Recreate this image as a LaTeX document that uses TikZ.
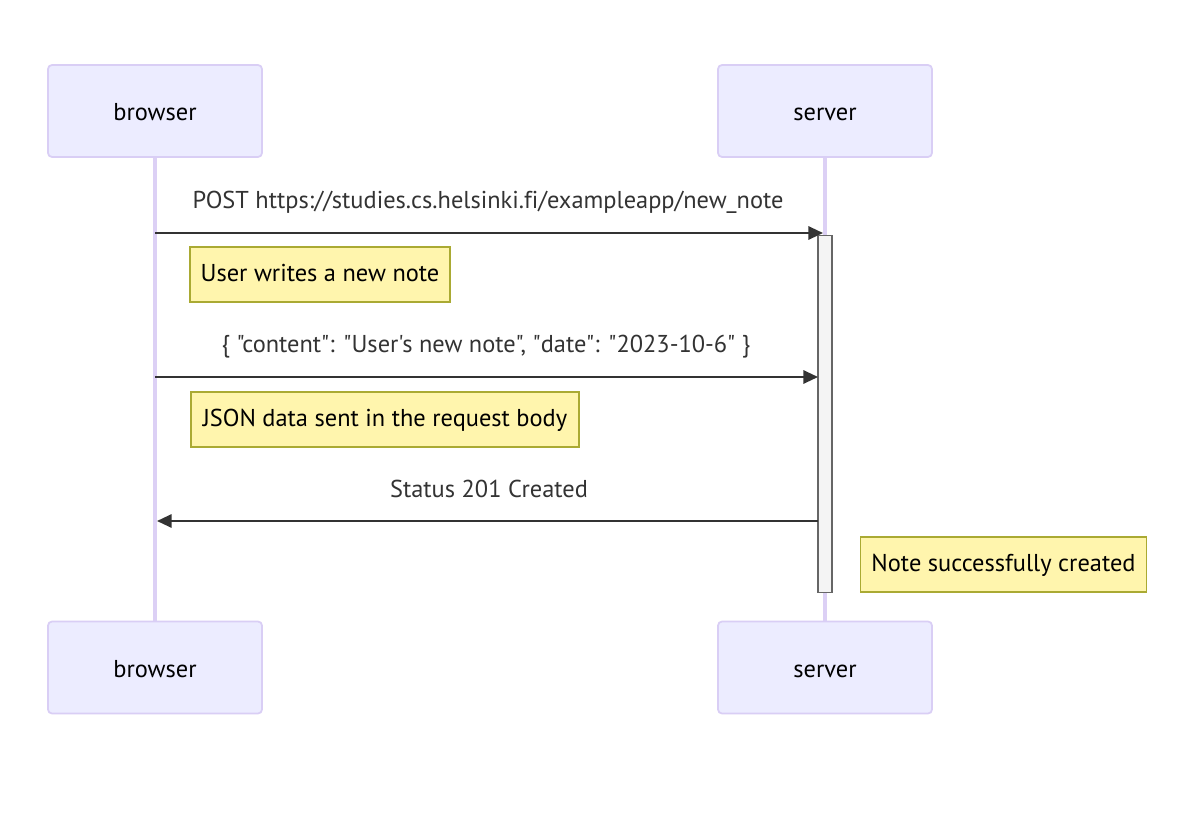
\documentclass[tikz,border=0pt]{standalone}
\usepackage{fontspec}
\setmainfont{PT Sans}[Ligatures={TeXOff,NoCommon}]
\usetikzlibrary{arrows.meta}
\definecolor{actfill}{HTML}{ECECFF}
\definecolor{actdraw}{HTML}{D9CEF5}
\definecolor{lifeline}{HTML}{DCD0F5}
\definecolor{notefill}{HTML}{FFF5AD}
\definecolor{notedraw}{HTML}{AAAA33}
\definecolor{msg}{HTML}{333333}
\definecolor{actbar}{HTML}{F4F4F4}
\definecolor{actbardraw}{HTML}{666666}
\tikzset{
  txt/.style={font=\fontsize{18.3}{22}\selectfont, text height=14pt, text depth=2.8pt},
  actor/.style={txt, draw=actdraw, fill=actfill, line width=1.3pt, rounded corners=3pt,
    minimum width=214*0.75pt, minimum height=92*0.75pt, inner sep=0pt, text=black},
  actorlabel/.style={txt, text=black, inner sep=0pt},
  notebox/.style={txt, draw=notedraw, fill=notefill, line width=1pt, minimum height=55*0.75pt,
    inner xsep=8pt, inner ysep=0pt, text=black},
  msglabel/.style={txt, text=msg, inner sep=0pt},
  msgline/.style={draw=msg, line width=1.5pt, -{Triangle[length=11pt,width=10pt]}},
  life/.style={draw=lifeline, line width=2.4pt},
}
\begin{document}
\begin{tikzpicture}[x=0.75pt,y=-0.75pt]
\useasboundingbox (0,0) rectangle (1191,827);
\fill[white] (0,0) rectangle (1191,827);
% lifelines
\coordinate (bt) at (155,157);
\coordinate (bb) at (155,621);
\coordinate (st) at (825,157);
\coordinate (sb) at (825,621);
\draw[life] (bt) -- (bb);
\draw[life] (st) -- (sb);
% actors
\node[actor] (b1) at (155,111) {};
\node[actor] (s1) at (825,111) {};
\node[actor] (b2) at (155,667.5) {};
\node[actor] (s2) at (825,667.5) {};
\node[actorlabel] (b1t) at ([yshift=-2.5*0.75pt]b1.center) {browser};
\node[actorlabel] (s1t) at ([yshift=-2.5*0.75pt]s1.center) {server};
\node[actorlabel] (b2t) at ([yshift=-2.5*0.75pt]b2.center) {browser};
\node[actorlabel] (s2t) at ([yshift=-2.5*0.75pt]s2.center) {server};
% activation bar
\node[draw=actbardraw, fill=actbar, line width=1pt, minimum width=14*0.75pt, minimum height=357*0.75pt, inner sep=0pt] (act) at (825,414) {};
% messages
\coordinate (m1s) at (155,233);
\coordinate (m1e) at (823,233);
\draw[msgline] (m1s) -- (m1e);
\node[msglabel] (l1) at (488,201) {POST https://studies.cs.helsinki.fi/exampleapp/new\_note};
\coordinate (m2s) at (155,377);
\coordinate (m2e) at (818,377);
\draw[msgline] (m2s) -- (m2e);
\node[msglabel] (l2) at (486,345) {\{ "content": "User's new note", "date": "2023-10-6" \}};
\coordinate (m3s) at (818,521);
\coordinate (m3e) at (157,521);
\draw[msgline] (m3s) -- (m3e);
\node[msglabel] (l3) at (489,490) {Status 201 Created};
% notes
\node[notebox, minimum width=258*0.75pt] (n1) at (320,274.5) {User writes a new note};
\node[notebox, minimum width=388*0.75pt] (n2) at (385,419.5) {JSON data sent in the request body};
\node[notebox, minimum width=285*0.75pt] (n3) at (1003.5,564.5) {Note successfully created};
\end{tikzpicture}
\end{document}
